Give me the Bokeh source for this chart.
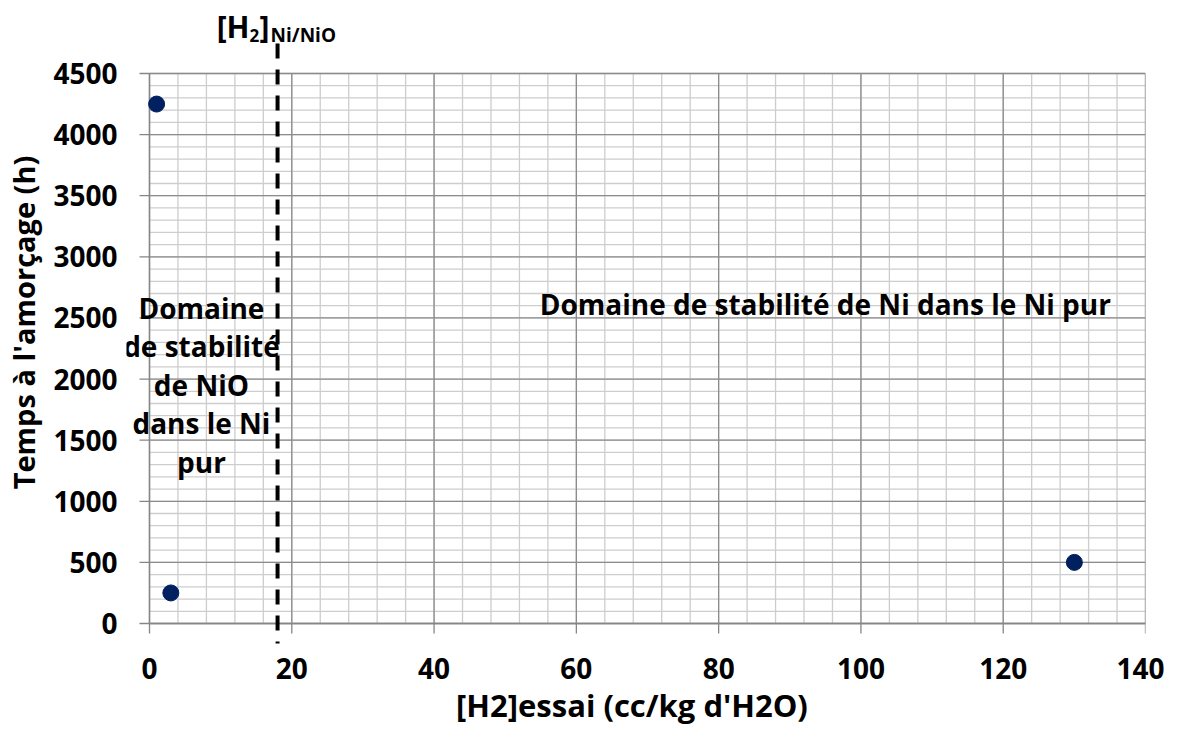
import numpy as np
from bokeh.plotting import figure
from bokeh.models import Range1d, Label
from bokeh.core.properties import value
from bokeh.embed import file_html
from bokeh.resources import INLINE

# ---- data ----
h2_essai = [1, 3, 130]            # [H2] essai (cc/kg d'H2O)
temps_amorcage = [4250, 250, 500]  # temps à l'amorçage (h)
x_ticks = [0, 20, 40, 60, 80, 100, 120, 140]
y_ticks = [0, 500, 1000, 1500, 2000, 2500, 3000, 3500, 4000, 4500]
x_minor_step = 4
y_minor_step = 100
h2_ni_nio = 18  # limite Ni/NiO
left_lines = ["Domaine", "de stabilité", "de NiO", "dans le Ni", "pur"]
right_text = "Domaine de stabilité de Ni dans le Ni pur"

FONT = "Open Sans"
GRID_MAJOR = "#8c8c8c"
GRID_MINOR = "#cdcdcd"
AXIS = "#868686"

x0, x1 = x_ticks[0], x_ticks[-1]
y0, y1 = y_ticks[0], y_ticks[-1]

PX_X = 996 / (x1 - x0)          # pixels per x unit inside the plot area
PX_Y = 550 / (y1 - y0)          # pixels per y unit inside the plot area
X_START = x0 - 23 / PX_X        # frame reaches a little left of x = 0
Y_START = y0 - 21 / PX_Y        # and a little below y = 0
Y_END = y1 + 73 / PX_Y          # room above for the Ni/NiO label

p = figure(frame_width=1019, frame_height=644,
           x_range=Range1d(X_START, x1), y_range=Range1d(Y_START, Y_END),
           output_backend="svg", toolbar_location=None,
           min_border_left=126, min_border_right=19,
           min_border_top=0, min_border_bottom=0)
p.outline_line_color = None
p.xgrid.visible = False
p.ygrid.visible = False

# ---- grid ----
xs_minor = np.arange(x0, x1 + 0.001, x_minor_step)
ys_minor = np.arange(y0, y1 + 0.001, y_minor_step)
p.segment(x0=xs_minor, x1=xs_minor, y0=y0, y1=y1, line_color=GRID_MINOR, line_width=1.3)
p.segment(x0=x0, x1=x1, y0=ys_minor, y1=ys_minor, line_color=GRID_MINOR, line_width=1.3)
p.segment(x0=x_ticks, x1=x_ticks, y0=y0, y1=y1, line_color=GRID_MAJOR, line_width=1.3)
p.segment(x0=x0, x1=x1, y0=y_ticks, y1=y_ticks, line_color=GRID_MAJOR, line_width=1.3)
# axis lines and outward ticks
p.segment(x0=x0, x1=x0, y0=y0, y1=y1, line_color=AXIS, line_width=1.3)
p.segment(x0=x0, x1=x1, y0=y0, y1=y0, line_color=AXIS, line_width=1.3)
p.segment(x0=x0 - 10 / PX_X, x1=x0, y0=y_ticks, y1=y_ticks, line_color=AXIS, line_width=1.3)
p.segment(x0=x_ticks, x1=x_ticks, y0=y0 - 10 / PX_Y, y1=y0, line_color=AXIS, line_width=1.3)

# ---- axes (labels only) ----
for ax in (p.xaxis, p.yaxis):
    ax.axis_line_color = None
    ax.major_tick_line_color = None
    ax.minor_tick_line_color = None
    ax.major_tick_out = 0
    ax.major_tick_in = 0
    ax.major_label_text_font = FONT
    ax.major_label_text_font_style = "bold"
    ax.major_label_text_font_size = "28px"
    ax.major_label_text_color = "black"
    ax.axis_label_text_font = FONT
    ax.axis_label_text_font_style = "bold"
    ax.axis_label_text_color = "black"

p.xaxis.bounds = (x0, x1)
p.xaxis.ticker = x_ticks
p.xaxis.major_label_standoff = 13
p.xaxis.axis_label = "[H2]essai  (cc/kg d'H2O)"
p.xaxis.axis_label_text_font_size = "31px"
p.xaxis.axis_label_standoff = 2

p.yaxis.ticker = y_ticks
p.yaxis.bounds = (y0, y1)
p.yaxis.major_label_standoff = 9
p.yaxis.axis_label = "Temps à l'amorçage (h)"
p.yaxis.axis_label_text_font_size = "29px"
p.yaxis.axis_label_standoff = 7

# ---- limit line (drawn from the top down) ----
p.line(x=[h2_ni_nio, h2_ni_nio], y=[y1 + 30 / PX_Y, y0 - 20 / PX_Y], line_color="black",
       line_width=4, line_dash="15 11")

# ---- points ----
p.scatter(h2_essai, temps_amorcage, size=16, color="#002060")

# ---- annotations ----
p.text(x=[95], y=[2618], text=[right_text], text_font=value(FONT), text_font_style="bold",
       text_color="black", text_align="center", text_baseline="middle", text_font_size="28px")

left_mid_y = [2585, 2270, 1955, 1640, 1325]
for line, yy in zip(left_lines, left_mid_y):
    p.add_layout(Label(x=7.3, y=yy, text=line, text_font=FONT, text_font_style="bold",
                       text_font_size="28px", text_color="black",
                       text_align="center", text_baseline="middle"))

lab = dict(x=h2_ni_nio, y=y1, text_font=FONT, text_font_style="bold",
           text_color="black", text_baseline="middle")
p.add_layout(Label(text="[H", x_offset=-28, y_offset=47, text_align="right",
                   text_font_size="30px", **lab))
p.add_layout(Label(text="2", x_offset=-28, y_offset=38, text_align="left",
                   text_font_size="17px", **lab))
p.add_layout(Label(text="]", x_offset=-18, y_offset=47, text_align="left",
                   text_font_size="30px", **lab))
p.add_layout(Label(text="Ni/NiO", x_offset=-7, y_offset=39, text_align="left",
                   text_font_size="19px", **lab))

open("out.html", "w").write(file_html(p, INLINE))
